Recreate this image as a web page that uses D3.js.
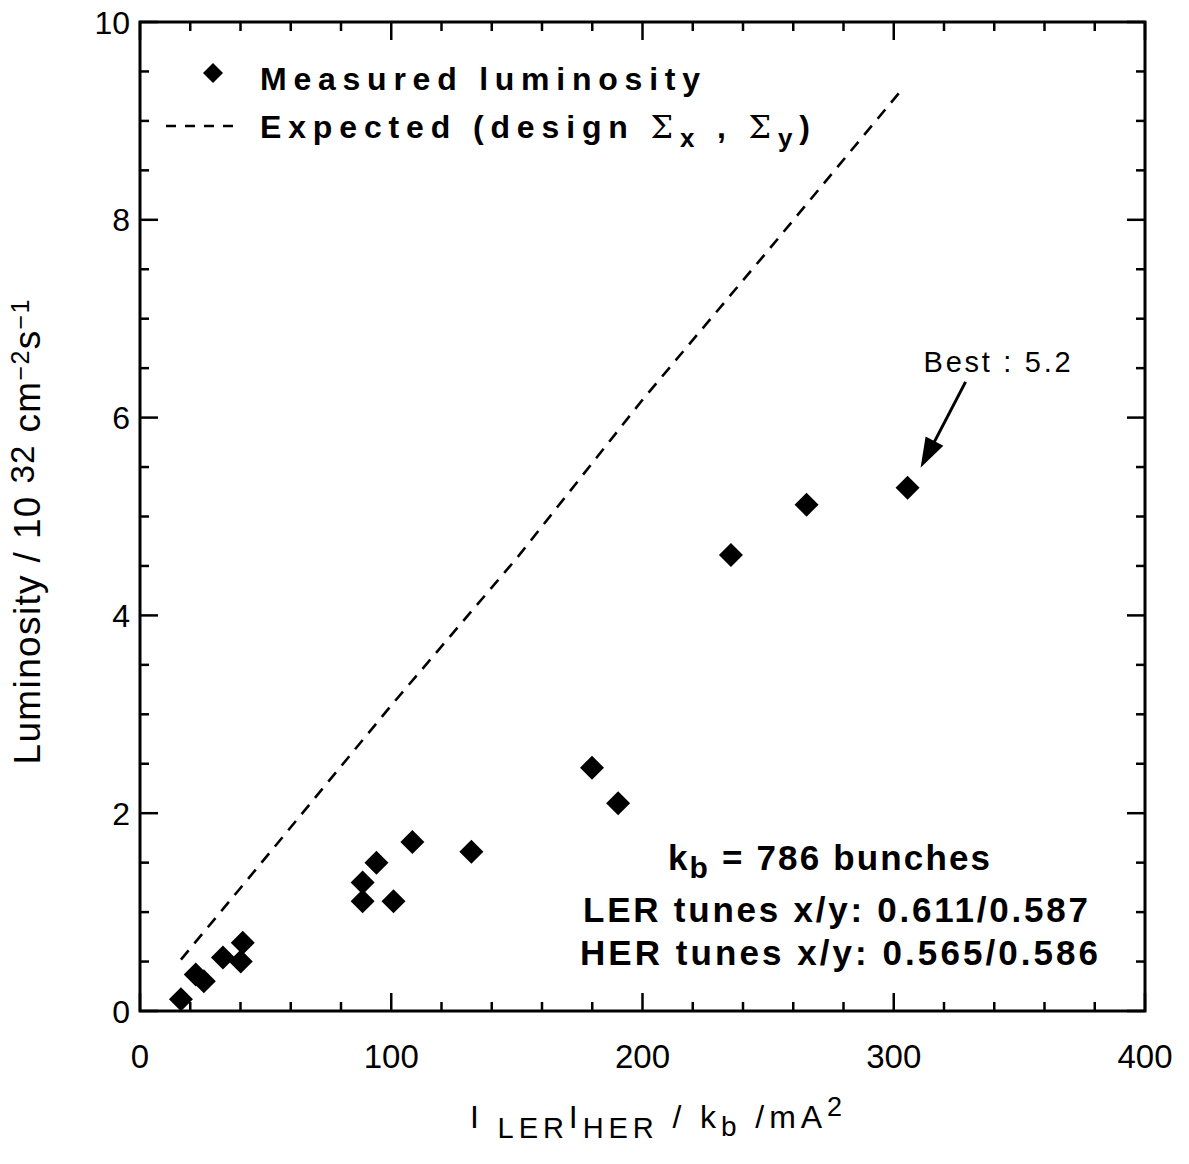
<!DOCTYPE html>
<html>
<head>
<meta charset="utf-8">
<script src="https://cdn.jsdelivr.net/npm/d3@7"></script>
<style>
  html, body { margin: 0; padding: 0; background: #fff; }
  svg { display: block; font-family: "Liberation Sans", Arial, Helvetica, sans-serif; }
</style>
</head>
<body>
<svg id="chart" width="1189" height="1164"></svg>
<script>
// ---- data ----
const measuredX = [16.3, 22.2, 25.4, 33.0, 40.1, 40.9, 88.6, 88.6, 94.1, 100.9, 108.4, 131.9, 179.9, 190.3, 235.2, 265.3, 305.5];
const measuredY = [0.12, 0.37, 0.30, 0.54, 0.50, 0.69, 1.30, 1.11, 1.50, 1.11, 1.71, 1.61, 2.46, 2.10, 4.61, 5.12, 5.29];
const expectedX = [16.3, 50, 100, 150, 200, 250, 303];
const expectedY = [0.52, 1.55, 3.09, 4.58, 6.18, 7.69, 9.31];
const xTicks = [0, 100, 200, 300, 400];
const yTicks = [0, 2, 4, 6, 8, 10];
const legendLabels = ["Measured luminosity", "Expected (design "];
const infoLines = ["LER tunes x/y: 0.611/0.587", "HER tunes x/y: 0.565/0.586"];
const bestLabel = "Best : 5.2";

// ---- layout ----
const svg = d3.select("#chart");
const L = 140, R = 1145, T = 22, B = 1011;
const x = d3.scaleLinear().domain([0, 400]).range([L, R]);
const y = d3.scaleLinear().domain([0, 10]).range([B, T]);

// ticks (inward, all four sides)
const g = svg.append("g");
const xMinor = d3.range(0, 401, 20).filter(v => v % 100 !== 0);
const yMinor = d3.range(0, 10.01, 0.5).filter(v => Math.abs(v % 2) > 1e-6);
const tickStyle = sel => sel.attr("stroke", "#000").attr("stroke-width", 2.5);
function vTicks(vals, len) {
  vals.forEach(v => {
    tickStyle(g.append("line").attr("x1", x(v)).attr("x2", x(v)).attr("y1", B).attr("y2", B - len));
    tickStyle(g.append("line").attr("x1", x(v)).attr("x2", x(v)).attr("y1", T).attr("y2", T + len));
  });
}
function hTicks(vals, len) {
  vals.forEach(v => {
    tickStyle(g.append("line").attr("y1", y(v)).attr("y2", y(v)).attr("x1", L).attr("x2", L + len));
    tickStyle(g.append("line").attr("y1", y(v)).attr("y2", y(v)).attr("x1", R).attr("x2", R - len));
  });
}
vTicks(xTicks, 18); vTicks(xMinor, 9);
hTicks(yTicks, 18); hTicks(yMinor, 9);

// frame
svg.append("rect").attr("x", L).attr("y", T).attr("width", R - L).attr("height", B - T)
  .attr("fill", "none").attr("stroke", "#000").attr("stroke-width", 3);

// tick labels
svg.append("g").selectAll("text").data(xTicks).join("text")
  .attr("x", d => x(d)).attr("y", 1068).attr("text-anchor", "middle")
  .attr("font-size", 33).text(d => d);
svg.append("g").selectAll("text").data(yTicks).join("text")
  .attr("x", 130).attr("y", d => y(d) + 11.5).attr("text-anchor", "end")
  .attr("font-size", 32).text(d => d);

// axis titles
const xt = svg.append("text").attr("x", 470).attr("y", 1128).attr("font-size", 32)
  .attr("textLength", 372).attr("lengthAdjust", "spacing");
xt.append("tspan").text("I ");
xt.append("tspan").attr("font-size", 29).attr("dy", 10).text("LER");
xt.append("tspan").attr("dy", -10).text("I");
xt.append("tspan").attr("font-size", 29).attr("dy", 10).text("HER");
xt.append("tspan").attr("dy", -10).text(" / k");
xt.append("tspan").attr("font-size", 28).attr("dy", 8).text("b");
xt.append("tspan").attr("dy", -8).text(" /mA");
xt.append("tspan").attr("font-size", 27).attr("dy", -12).text("2");

const yt = svg.append("text").attr("transform", "translate(40,532) rotate(-90)")
  .attr("text-anchor", "middle").attr("font-size", 37)
  .attr("textLength", 465).attr("lengthAdjust", "spacing");
yt.append("tspan").text("Luminosity / 10 ");
yt.append("tspan").attr("font-size", 33).attr("dy", -6).text("32");
yt.append("tspan").attr("dy", 6).text(" cm");
yt.append("tspan").attr("font-size", 25).attr("dy", -11).text("\u22122");
yt.append("tspan").attr("dy", 11).text("s");
yt.append("tspan").attr("font-size", 25).attr("dy", -11).text("\u22121");

// expected line
const line = d3.line().x(d => x(d[0])).y(d => y(d[1]));
svg.append("path").datum(expectedX.map((v, i) => [v, expectedY[i]]))
  .attr("d", line).attr("fill", "none").attr("stroke", "#000")
  .attr("stroke-width", 2.6).attr("stroke-dasharray", "12,9");

// diamond markers
const diamond = (cx, cy, r) => `M${cx},${cy - r}L${cx + r},${cy}L${cx},${cy + r}L${cx - r},${cy}Z`;
svg.append("g").selectAll("path").data(measuredX.map((v, i) => [v, measuredY[i]])).join("path")
  .attr("d", d => diamond(x(d[0]), y(d[1]), 12)).attr("fill", "#000");

// legend
svg.append("path").attr("d", diamond(213, 73, 10)).attr("fill", "#000");
svg.append("text").attr("x", 260).attr("y", 90).attr("font-size", 32).attr("font-weight", "bold")
  .attr("textLength", 440).attr("lengthAdjust", "spacing").text(legendLabels[0]);
svg.append("line").attr("x1", 166).attr("x2", 234).attr("y1", 126).attr("y2", 126)
  .attr("stroke", "#000").attr("stroke-width", 2.6).attr("stroke-dasharray", "10,9");
const lg = svg.append("text").attr("x", 260).attr("y", 138).attr("font-size", 32).attr("font-weight", "bold")
  .attr("textLength", 550).attr("lengthAdjust", "spacing");
lg.append("tspan").text(legendLabels[1]);
lg.append("tspan").attr("font-weight", "normal").attr("font-family", "DejaVu Serif").text("\u03A3");
lg.append("tspan").attr("font-size", 26).attr("dy", 9).text("x");
lg.append("tspan").attr("dy", -9).text(" , ");
lg.append("tspan").attr("font-weight", "normal").attr("font-family", "DejaVu Serif").text("\u03A3");
lg.append("tspan").attr("font-size", 26).attr("dy", 9).text("y");
lg.append("tspan").attr("dy", -9).text(")");

// info block
const kb = svg.append("text").attr("x", 668).attr("y", 870)
  .attr("font-size", 35).attr("font-weight", "bold")
  .attr("textLength", 322).attr("lengthAdjust", "spacing");
kb.append("tspan").text("k");
kb.append("tspan").attr("font-size", 30).attr("dy", 8).text("b");
kb.append("tspan").attr("dy", -8).text(" = 786 bunches");
infoLines.forEach((t, i) => {
  svg.append("text").attr("x", 583 + i * -3).attr("y", 922 + i * 43)
    .attr("font-size", 35).attr("font-weight", "bold")
    .attr("textLength", 505 + i * 13).attr("lengthAdjust", "spacing").text(t);
});

// annotation
const bx = measuredX[measuredX.length - 1], by = measuredY[measuredY.length - 1];
svg.append("text").attr("x", x(bx) + 16).attr("y", y(by) - 116).attr("font-size", 29)
  .attr("textLength", 147).attr("lengthAdjust", "spacing").text(bestLabel);
const ax0 = x(bx) + 58, ay0 = y(by) - 106, ax1 = x(bx) + 13, ay1 = y(by) - 20;
svg.append("line").attr("x1", ax0).attr("y1", ay0).attr("x2", ax1 + 7).attr("y2", ay1 - 13)
  .attr("stroke", "#000").attr("stroke-width", 3);
const ang = Math.atan2(ay1 - ay0, ax1 - ax0);
const hl = 30, hw = 10;
const bxh = ax1 - hl * Math.cos(ang), byh = ay1 - hl * Math.sin(ang);
svg.append("path").attr("d",
  `M${ax1},${ay1}L${bxh + hw * Math.sin(ang)},${byh - hw * Math.cos(ang)}L${bxh - hw * Math.sin(ang)},${byh + hw * Math.cos(ang)}Z`)
  .attr("fill", "#000");
</script>
</body>
</html>
